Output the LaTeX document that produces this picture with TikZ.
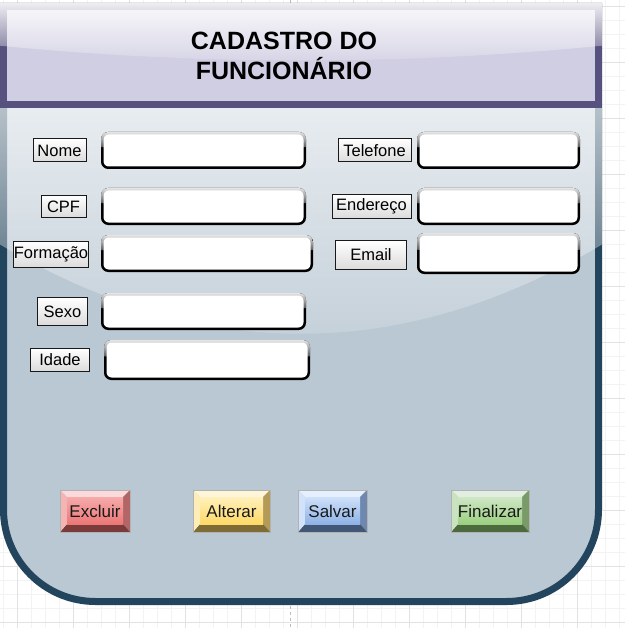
\documentclass[tikz,border=0pt]{standalone}
\usepackage{fontspec}
\setmainfont{Liberation Sans}
\usetikzlibrary{fadings,calc}
\definecolor{framecol}{HTML}{23445D}
\definecolor{bodycol}{HTML}{BAC8D3}
\definecolor{hdrline}{HTML}{56517E}
\definecolor{hdrfill}{HTML}{D0CEE2}
\definecolor{gridmin}{HTML}{F3F3F3}
\definecolor{gridmaj}{HTML}{E2E2E2}
\definecolor{pageline}{HTML}{BDBDBD}
% button colours
\definecolor{rTop}{HTML}{FADADA}\definecolor{rF1}{HTML}{F6AAAA}\definecolor{rF2}{HTML}{EC7777}
\definecolor{rRight}{HTML}{B36666}\definecolor{rBot}{HTML}{7B3B3B}\definecolor{rLeft}{HTML}{F3B4B4}
\definecolor{yTop}{HTML}{FFF6DA}\definecolor{yF1}{HTML}{FFF0BC}\definecolor{yF2}{HTML}{FFD966}
\definecolor{yRight}{HTML}{B39B57}\definecolor{yBot}{HTML}{7F6B35}\definecolor{yLeft}{HTML}{FFEDB8}
\definecolor{bTop}{HTML}{E6EFFD}\definecolor{bF1}{HTML}{CFE0F9}\definecolor{bF2}{HTML}{8EB2E6}
\definecolor{bRight}{HTML}{6E88B0}\definecolor{bBot}{HTML}{425676}\definecolor{bLeft}{HTML}{D2E2FA}
\definecolor{gTop}{HTML}{E2EFE0}\definecolor{gF1}{HTML}{CFE7C6}\definecolor{gF2}{HTML}{9BCF80}
\definecolor{gRight}{HTML}{7A9B69}\definecolor{gBot}{HTML}{4C6A3E}\definecolor{gLeft}{HTML}{C9E3C0}
\tikzfading[name=glassfade, top color=transparent!10, bottom color=transparent!90]
\newcommand\glassover[6]{%
  \pgfmathsetmacro\gxa{(#1)-(#6)}%
  \pgfmathsetmacro\gxb{(#3)+(#6)}%
  \pgfmathsetmacro\gya{(#2)-(#6)}%
  \pgfmathsetmacro\gyb{(#4)+(#6)}%
  \pgfmathsetmacro\gys{(#2)+0.4*((#4)-(#2))}%
  \pgfmathsetmacro\gyc{(#2)+0.7*((#4)-(#2))}%
  \pgfmathsetmacro\gye{(#2)+0.6*((#4)-(#2))}%
  \pgfmathsetmacro\gcy{\gys+2/3*(\gyc-\gys)}%
  \pgfmathsetmacro\gcxa{\gxa+1/3*(\gxb-\gxa)}%
  \pgfmathsetmacro\gcxb{\gxb-1/3*(\gxb-\gxa)}%
  \begin{scope}
    \clip (\gxa,\gya) -- (\gxa,\gys) .. controls (\gcxa,\gcy) and (\gcxb,\gcy) .. (\gxb,\gys) -- (\gxb,\gya) -- cycle;
    \clip[rounded corners=#5] (\gxa,\gya) rectangle (\gxb,\gyb);
    \fill[white, path fading=glassfade] (\gxa,\gya) rectangle (\gxb,\gye);
  \end{scope}}
\newcommand\inputfield[5]{%
  \node[field, minimum width={(#4)-(#2)-2.5}, minimum height={(#5)-(#3)-2.5}] (#1) at ({((#2)+(#4))/2},{((#3)+(#5))/2}) {};
  \glassover{(#2)+1.25}{(#3)+1.25}{(#4)-1.25}{(#5)-1.25}{7.25pt}{1.25}}
\tikzset{
  lbl/.style={draw=black!90, line width=1pt, top color=white, bottom color=black!14,
    inner sep=0pt, font=\fontsize{16.5}{19}\selectfont, text=black},
  field/.style={draw=black, line width=2.5pt, fill=white, rounded corners=6pt, inner sep=0pt},
  bevelbtn/.style n args={6}{draw=black!30, line width=0.6pt, inner sep=0pt,
    minimum height=42, font=\fontsize{17}{20}\selectfont, text=black!90,
    path picture={
      \coordinate (bnw) at (path picture bounding box.north west);
      \coordinate (bne) at (path picture bounding box.north east);
      \coordinate (bsw) at (path picture bounding box.south west);
      \coordinate (bse) at (path picture bounding box.south east);
      \coordinate (inw) at ($(bnw)+(7,7)$);
      \coordinate (ine) at ($(bne)+(-7,7)$);
      \coordinate (isw) at ($(bsw)+(7,-8)$);
      \coordinate (ise) at ($(bse)+(-7,-8)$);
      \fill[#1] (bnw) -- (bne) -- (ine) -- (inw) -- cycle;
      \fill[#4] (bne) -- (bse) -- (ise) -- (ine) -- cycle;
      \fill[#5] (bse) -- (bsw) -- (isw) -- (ise) -- cycle;
      \fill[#6] (bsw) -- (bnw) -- (inw) -- (isw) -- cycle;
      \shade[top color=#2, bottom color=#3] (inw) rectangle (ise);
    }},
  title/.style={font=\fontsize{25}{30}\selectfont\bfseries, align=center, text=black, inner sep=0pt}
}
\begin{document}
\begin{tikzpicture}[x=1pt,y=-1pt]
\useasboundingbox (0,0) rectangle (625,628);
\fill[white] (0,0) rectangle (625,628);
% canvas grid
\foreach \gx in {3,17,...,625} \draw[gridmin, line width=0.6pt] (\gx,0) -- (\gx,628);
\foreach \gy in {6,20,...,628} \draw[gridmin, line width=0.6pt] (0,\gy) -- (625,\gy);
\foreach \gx in {17,73,...,625} \draw[gridmaj, line width=0.8pt] (\gx,0) -- (\gx,628);
\foreach \gy in {6,62,...,628} \draw[gridmaj, line width=0.8pt] (0,\gy) -- (625,\gy);
\draw[pageline, line width=0.8pt, dash pattern=on 3pt off 3pt] (290,0) -- (290,628);
% body frame
\draw[framecol, line width=7pt, fill=bodycol]
  (3.5,6.5) -- (3.5,509.5) .. controls (3.5,560.3) and (44.7,601.5) .. (95.5,601.5)
  -- (506.5,601.5) .. controls (557.3,601.5) and (598.5,560.3) .. (598.5,509.5)
  -- (598.5,6.5) -- cycle;
\glassover{3.5}{6.5}{598.5}{601.5}{0pt}{3.5}
% header
\node[draw=hdrline, line width=7pt, fill=hdrfill, minimum width=595, minimum height=98, inner sep=0pt] (header) at (301,55.5) {};
\glassover{3.5}{6.5}{598.5}{104.5}{0pt}{3.5}
\node[title] (titletext) at (284,56) {CADASTRO DO\\FUNCIONÁRIO};
% labels
\node[lbl, minimum width=53, minimum height=23] (nomeL) at (59.5,150.5) {Nome};
\node[lbl, minimum width=45, minimum height=22] (cpfL) at (63.5,206.5) {CPF};
\node[lbl, minimum width=74, minimum height=26] (formL) at (51,254.5) {Formação};
\node[lbl, minimum width=50, minimum height=28] (sexoL) at (62.5,311.5) {Sexo};
\node[lbl, minimum width=59, minimum height=23] (idadeL) at (60,360) {Idade};
\node[lbl, minimum width=73, minimum height=23] (telL) at (374.5,150.5) {Telefone};
\node[lbl, minimum width=79, minimum height=23] (endL) at (371.5,206.5) {Endereço};
\node[lbl, minimum width=71, minimum height=29] (emailL) at (371,255) {Email};
% input fields
\inputfield{nomeF}{101}{132}{306}{169}
\inputfield{cpfF}{101}{188}{306}{225}
\inputfield{formF}{101}{235}{313}{272}
\inputfield{sexoF}{101}{293}{306}{330}
\inputfield{idadeF}{104}{340}{310}{380}
\inputfield{telF}{417}{132}{580}{169}
\inputfield{endF}{417}{188}{580}{225}
\inputfield{emailF}{417}{233}{580}{274}
% buttons
\node[bevelbtn={rTop}{rF1}{rF2}{rRight}{rBot}{rLeft}, minimum width=70] (excluir) at (95,511) {Excluir};
\node[bevelbtn={yTop}{yF1}{yF2}{yRight}{yBot}{yLeft}, minimum width=77] (alterar) at (231.5,511) {Alterar};
\node[bevelbtn={bTop}{bF1}{bF2}{bRight}{bBot}{bLeft}, minimum width=69] (salvar) at (332.5,511) {Salvar};
\node[bevelbtn={gTop}{gF1}{gF2}{gRight}{gBot}{gLeft}, minimum width=78] (finalizar) at (490,511) {Finalizar};
\end{tikzpicture}
\end{document}
